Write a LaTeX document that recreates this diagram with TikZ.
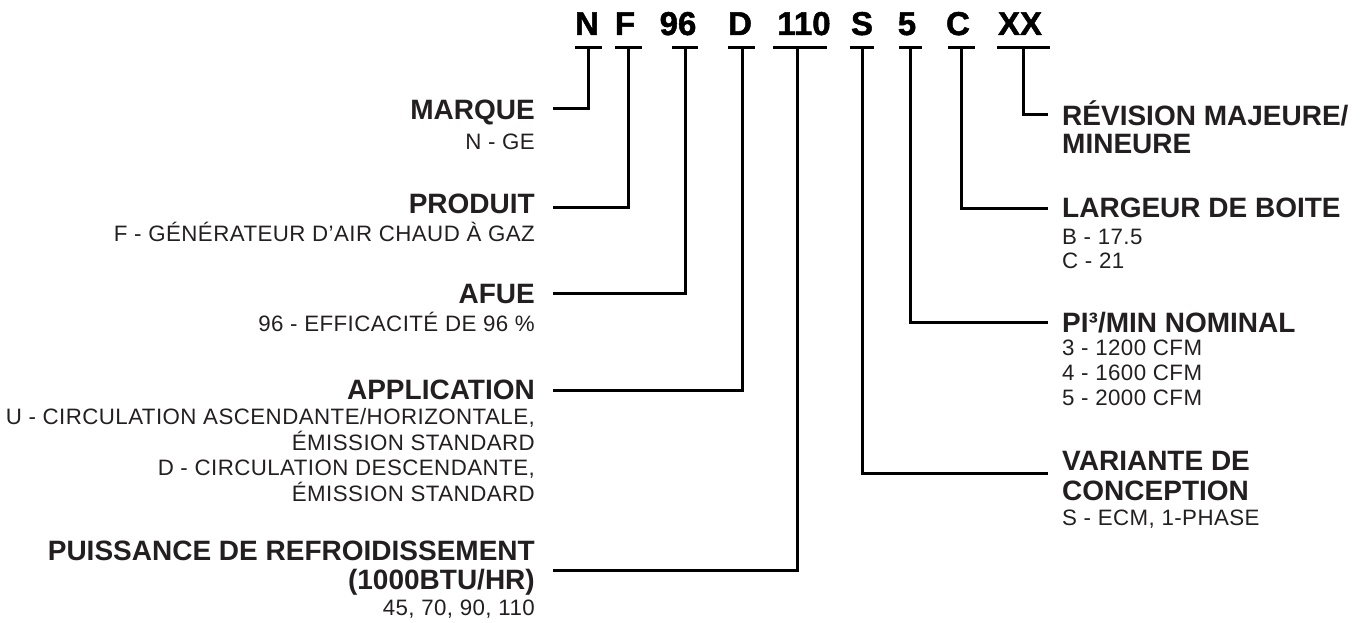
\documentclass[tikz,border=0pt]{standalone}
\usepackage{fontspec}
\setmainfont{Liberation Sans}
\newfontfamily\hdfont[FakeBold=1.5]{Liberation Sans Bold}
\newfontfamily\subfont[LetterSpace=2]{Liberation Sans}
\definecolor{txt}{HTML}{231F20}
\begin{document}
\begin{tikzpicture}[x=1pt,y=-1pt,
  hd/.style={font=\fontsize{33}{33}\hdfont, anchor=base, inner sep=0pt, text=black},
  ttl/.style={font=\fontsize{28}{28}\selectfont\bfseries, inner sep=0pt, text=txt},
  sub/.style={font=\fontsize{22.3}{22.3}\subfont, inner sep=0pt, text=txt},
  lt/.style={anchor=base east},
  rt/.style={anchor=base west},
  bar/.style={line width=3pt, line cap=butt},
  conn/.style={line width=3pt, line join=miter, line cap=butt}]
\useasboundingbox (0,0) rectangle (1364,623);
% header tokens
\node[hd] (hN)  at (587,35) {N};
\node[hd] (hF)  at (625,35) {F};
\node[hd] (h96) at (678,35) {96};
\node[hd] (hD)  at (740,35) {D};
\node[hd] (h110) at (804,35) {110};
\node[hd] (hS)  at (862,35) {S};
\node[hd] (h5)  at (907,35) {5};
\node[hd] (hC)  at (958,35) {C};
\node[hd] (hXX) at (1020,35) {XX};
% bars
\draw[bar] (575,48) -- (602,48);
\draw[bar] (615,48) -- (642,48);
\draw[bar] (672,48) -- (698,48);
\draw[bar] (728,48) -- (755,48);
\draw[bar] (773,48) -- (827,48);
\draw[bar] (850,48) -- (874,48);
\draw[bar] (899,48) -- (922,48);
\draw[bar] (948,48) -- (975,48);
\draw[bar] (997,48) -- (1050,48);
% stem tops
\coordinate (sN) at (588,48);
\coordinate (sF) at (628,48);
\coordinate (s96) at (685,48);
\coordinate (sD) at (742,48);
\coordinate (s110) at (797,48);
\coordinate (sS) at (862,48);
\coordinate (s5) at (910,48);
\coordinate (sC) at (961,48);
\coordinate (sXX) at (1023,48);
% line ends
\coordinate (eN) at (553,109);
\coordinate (eF) at (553,207);
\coordinate (e96) at (553,293);
\coordinate (eD) at (553,390);
\coordinate (e110) at (553,570);
\coordinate (eS) at (1048,473);
\coordinate (e5) at (1048,322);
\coordinate (eC) at (1048,208);
\coordinate (eXX) at (1048,115);
% connectors
\draw[conn] (sN) |- (eN);
\draw[conn] (sF) |- (eF);
\draw[conn] (s96) |- (e96);
\draw[conn] (sD) |- (eD);
\draw[conn] (s110) |- (e110);
\draw[conn] (sS) |- (eS);
\draw[conn] (s5) |- (e5);
\draw[conn] (sC) |- (eC);
\draw[conn] (sXX) |- (eXX);
% left labels (baseline = centre + half cap height)
\node[ttl,lt] (mar) at (535,120) {MARQUE};
\node[sub,lt] (mar1) at (535,149) {N - GE};
\node[ttl,lt] (pro) at (535,213) {PRODUIT};
\node[sub,lt] (pro1) at (535,241) {F - GÉNÉRATEUR D’AIR CHAUD À GAZ};
\node[ttl,lt] (afu) at (535,303) {AFUE};
\node[sub,lt] (afu1) at (535,331) {96 - EFFICACITÉ DE 96 \%};
\node[ttl,lt] (app) at (535,399) {APPLICATION};
\node[sub,lt] (app1) at (535,424) {U - CIRCULATION ASCENDANTE/HORIZONTALE,};
\node[sub,lt] (app2) at (535,450) {ÉMISSION STANDARD};
\node[sub,lt] (app3) at (535,475) {D - CIRCULATION DESCENDANTE,};
\node[sub,lt] (app4) at (535,501) {ÉMISSION STANDARD};
\node[ttl,lt] (pui) at (535,560) {PUISSANCE DE REFROIDISSEMENT};
\node[ttl,lt] (pui1) at (535,589) {(1000BTU/HR)};
\node[sub,lt] (pui2) at (535,615) {45, 70, 90, 110};
% right labels
\node[ttl,rt] (rev) at (1062,125) {RÉVISION MAJEURE/};
\node[ttl,rt] (rev1) at (1062,153) {MINEURE};
\node[ttl,rt] (lar) at (1062,217) {LARGEUR DE BOITE};
\node[sub,rt] (lar1) at (1062,244) {B - 17.5};
\node[sub,rt] (lar2) at (1062,268) {C - 21};
\node[ttl,rt] (pim) at (1062,332) {PI³/MIN NOMINAL};
\node[sub,rt] (pim1) at (1062,355) {3 - 1200 CFM};
\node[sub,rt] (pim2) at (1062,380) {4 - 1600 CFM};
\node[sub,rt] (pim3) at (1062,405) {5 - 2000 CFM};
\node[ttl,rt] (var) at (1062,470) {VARIANTE DE};
\node[ttl,rt] (var1) at (1062,500) {CONCEPTION};
\node[sub,rt] (var2) at (1062,525) {S - ECM, 1-PHASE};
\end{tikzpicture}
\end{document}
